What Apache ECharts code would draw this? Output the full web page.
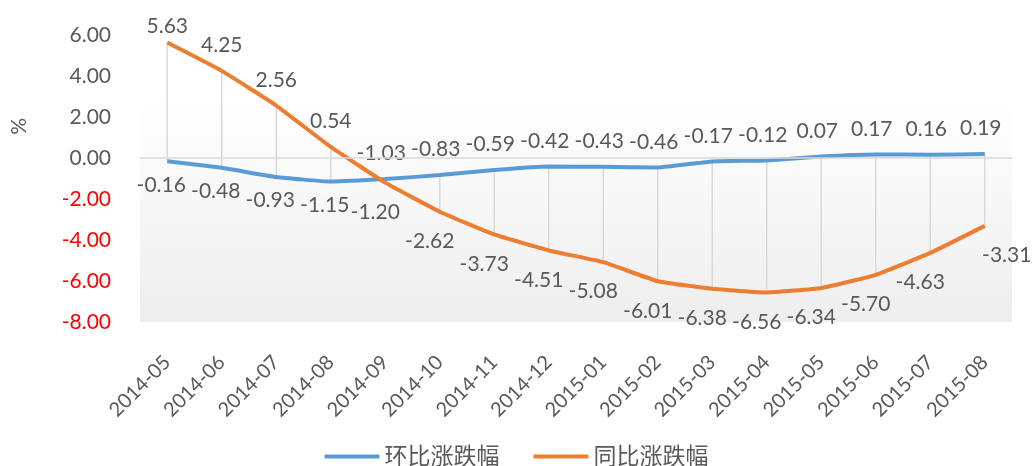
<!DOCTYPE html>
<html>
<head>
<meta charset="utf-8">
<script src="https://cdn.jsdelivr.net/npm/echarts@6/dist/echarts.min.js"></script>
<style>
	html, body { margin: 0; padding: 0; background: #fff; }
	#chart { width: 1033px; height: 466px; }
</style>
</head>
<body>
<div id="chart"></div>
<script>
// 月份
const months = ['2014-05', '2014-06', '2014-07', '2014-08', '2014-09', '2014-10', '2014-11', '2014-12',
	'2015-01', '2015-02', '2015-03', '2015-04', '2015-05', '2015-06', '2015-07', '2015-08'];
// 环比涨跌幅
const hbValues = [-0.16, -0.48, -0.93, -1.15, -1.03, -0.83, -0.59, -0.42,
	-0.43, -0.46, -0.17, -0.12, 0.07, 0.17, 0.16, 0.19];
// 同比涨跌幅
const tbValues = [5.63, 4.25, 2.56, 0.54, -1.20, -2.62, -3.73, -4.51,
	-5.08, -6.01, -6.38, -6.56, -6.34, -5.70, -4.63, -3.31];
const seriesNames = ['环比涨跌幅', '同比涨跌幅'];

const textColor = '#595959';
const font = 'Lato, "Noto Sans CJK SC", sans-serif';

//高低点连线
let hiLo = [];
for(let i = 0; i < months.length; i++) {
	hiLo.push([i, Math.max(hbValues[i], tbValues[i]), Math.min(hbValues[i], tbValues[i])]);
}

//前4个点标签位置和后面相反
function labelData(values, firstPos, restPos, topDist, bottomDist, bottomOff) {
	let out = [];
	for(let i = 0; i < values.length; i++) {
		let pos = i < 4 ? firstPos : restPos;
		let dist = pos == 'top' ? topDist : bottomDist;
		let ox = pos == 'top' ? (firstPos == 'top' ? 0 : -4) : bottomOff;
		if(i == 0 && pos == 'top') dist = 6; //第一个标签压低一些
		if(i == values.length - 1 && pos == 'bottom' && firstPos == 'top') ox = 22;
		out.push({
			value: values[i],
			label: { position: pos, distance: dist, offset: [ox, 0] }
		});
	}
	return out;
}

const chart = echarts.init(document.getElementById('chart'));
const option = {
	animation: false,
	textStyle: { fontFamily: font },
	grid: {
		left: 140, right: 21, top: 35, bottom: 144,
		show: true,
		borderWidth: 0,
		backgroundColor: new echarts.graphic.LinearGradient(0, 0, 0, 1, [
			{ offset: 0, color: '#ffffff' },
			{ offset: 0.22, color: '#ffffff' },
			{ offset: 1, color: '#eeeeee' }
		])
	},
	legend: {
		top: 440,
		left: 'center',
		itemWidth: 55,
		itemHeight: 4,
		itemGap: 34,
		icon: 'roundRect',
		textStyle: { color: textColor, fontSize: 23, fontFamily: font },
		data: seriesNames
	},
	graphic: [{
		type: 'text',
		left: 9,
		top: 118,
		rotation: Math.PI / 2,
		style: { text: '%', fill: textColor, font: '21px ' + font }
	}],
	xAxis: {
		type: 'category',
		data: months,
		boundaryGap: true,
		axisLine: { show: false, onZero: false },
		axisTick: { show: false },
		axisLabel: {
			rotate: 45,
			margin: 37,
			interval: 0,
			color: textColor,
			fontSize: 20,
			fontFamily: font
		}
	},
	yAxis: {
		type: 'value',
		min: -8,
		max: 6,
		interval: 2,
		axisLine: { show: false },
		axisTick: { show: false },
		splitLine: { show: false },
		axisLabel: {
			margin: 29,
			fontSize: 21,
			fontFamily: font,
			formatter: function(v) { return v.toFixed(2); },
			color: function(v) { return parseFloat(v) < 0 ? '#ff0000' : textColor; }
		}
	},
	series: [{
		//高低点连线
		type: 'custom',
		silent: true,
		z: 1,
		data: hiLo,
		renderItem: function(params, api) {
			let p1 = api.coord([api.value(0), api.value(1)]);
			let p2 = api.coord([api.value(0), api.value(2)]);
			return {
				type: 'line',
				shape: { x1: p1[0], y1: p1[1], x2: p2[0], y2: p2[1] },
				style: { stroke: '#d9d9d9', lineWidth: 1.5 }
			};
		},
		markLine: {
			silent: true,
			symbol: 'none',
			label: { show: false },
			lineStyle: { color: '#d9d9d9', width: 1.5, type: 'solid' },
			data: [{ yAxis: 0 }]
		}
	}, {
		name: seriesNames[0],
		type: 'line',
		z: 3,
		smooth: 0.12,
		showSymbol: true,
		symbol: 'circle',
		symbolSize: 0.1,
		lineStyle: { color: '#5b9bd5', width: 4 },
		itemStyle: { color: '#5b9bd5' },
		label: {
			show: true,
			color: textColor,
			fontSize: 21,
			fontFamily: font,
			formatter: function(p) { return p.value.toFixed(2); }
		},
		data: labelData(hbValues, 'bottom', 'top', 15, 13, -6)
	}, {
		name: seriesNames[1],
		type: 'line',
		z: 4,
		smooth: 0.12,
		showSymbol: true,
		symbol: 'circle',
		symbolSize: 0.1,
		lineStyle: { color: '#ed7d31', width: 4 },
		itemStyle: { color: '#ed7d31' },
		label: {
			show: true,
			color: textColor,
			fontSize: 21,
			fontFamily: font,
			formatter: function(p) { return p.value.toFixed(2); }
		},
		data: labelData(tbValues, 'top', 'bottom', 15, 19, -10)
	}]
};
chart.setOption(option);
</script>
</body>
</html>
